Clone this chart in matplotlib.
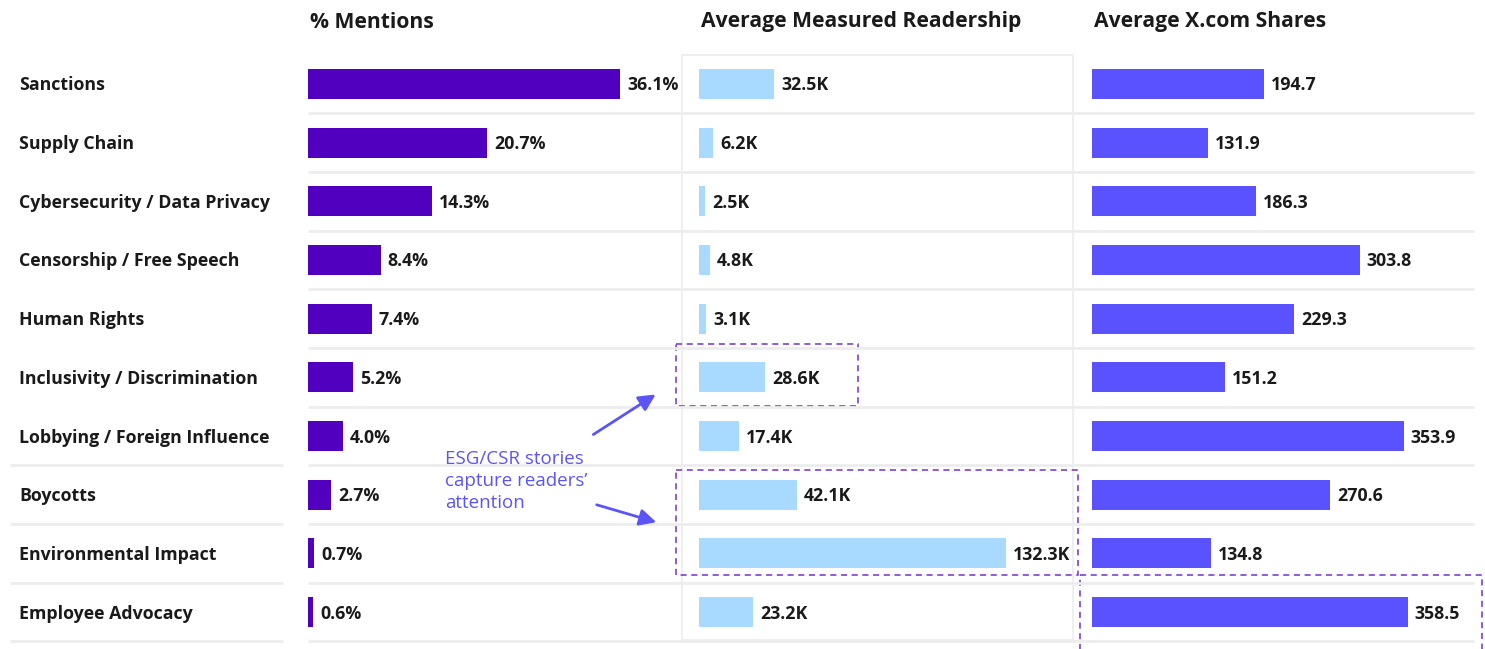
import matplotlib.pyplot as plt
from matplotlib.patches import Rectangle

topics = ["Sanctions", "Supply Chain", "Cybersecurity / Data Privacy",
          "Censorship / Free Speech", "Human Rights", "Inclusivity / Discrimination",
          "Lobbying / Foreign Influence", "Boycotts", "Environmental Impact",
          "Employee Advocacy"]
mentions = [36.1, 20.7, 14.3, 8.4, 7.4, 5.2, 4.0, 2.7, 0.7, 0.6]
readership = [32.5, 6.2, 2.5, 4.8, 3.1, 28.6, 17.4, 42.1, 132.3, 23.2]
shares = [194.7, 131.9, 186.3, 303.8, 229.3, 151.2, 353.9, 270.6, 134.8, 358.5]

headers = ["% Mentions", "Average Measured Readership", "Average X.com Shares"]
note = "ESG/CSR stories\ncapture readers\u2019\nattention"

W, H = 1485, 649
TEXT = "#1a1a1a"
GRID = "#ededed"
DASH = "#7330d2"
NOTE = "#5b55f7"

plt.rcParams['font.family'] = ['Open Sans', 'DejaVu Sans']

fig = plt.figure(figsize=(W / 100, H / 100), dpi=100)


def px_axes(x0, x1, y0, y1, z=1):
    ax = fig.add_axes([x0 / W, 1 - y1 / H, (x1 - x0) / W, (y1 - y0) / H], zorder=z)
    ax.set_axis_off()
    ax.patch.set_alpha(0)
    return ax


# overlay in pixel units for the frame, headers and callout
over = px_axes(0, W, 0, H, z=0)
over.set_xlim(0, W)
over.set_ylim(H, 0)

row_top, row_h = 54.7, 58.67
n = len(topics)
row_bot = row_top + n * row_h

# light box around the middle panel
over.add_patch(Rectangle((682, 55), 391, 585, fill=False, ec="#eeeeee", lw=1.3))

for i in range(n):
    y = row_top + (i + 1) * row_h
    if i >= 6:
        over.plot([10, 283], [y, y], color=GRID, lw=2, solid_capstyle="butt")
    over.plot([308, 1474], [y, y], color=GRID, lw=2, solid_capstyle="butt")

# topic labels
lab = px_axes(0, 300, row_top, row_bot)
lab.set_xlim(0, 300)
lab.set_ylim(n - 0.5, -0.5)
for i, t in enumerate(topics):
    lab.text(19, i + 0.11, t, ha="left", va="baseline", fontsize=12.8,
             fontweight="bold", color=TEXT)

panels = [
    (308, 681, 8.64, mentions, "#5200bf", "{:.1f}%"),
    (699, 1073, 2.32, readership, "#a8daff", "{:.1f}K"),
    (1092, 1474, 0.881, shares, "#5a52ff", "{:.1f}"),
]

for (x0, x1, scale, vals, col, fmt), head in zip(panels, headers):
    ax = px_axes(x0, x1, row_top, row_bot, z=2)
    ax.set_xlim(0, (x1 - x0) / scale)
    ax.set_ylim(n - 0.5, -0.5)
    ax.barh(range(n), vals, height=0.51, color=col, edgecolor="none")
    off = 7 / scale
    for i, v in enumerate(vals):
        ax.text(v + off, i + 0.11, fmt.format(v), ha="left", va="baseline",
                fontsize=12.8, fontweight="bold", color=TEXT, clip_on=False)
    over.text(x0 + 2, 22, head, ha="left", va="center", fontsize=15.2,
              fontweight="bold", color=TEXT)

# dashed highlight boxes
for (bx0, by0, bx1, by1) in [(676, 344, 858, 406), (676, 470, 1078, 575),
                             (1080, 575, 1482, 660)]:
    over.add_patch(Rectangle((bx0, by0), bx1 - bx0, by1 - by0, fill=False,
                             ec=DASH, lw=1.1, ls=(0, (4, 3)), clip_on=False))

over.text(445, 481, note, ha="left", va="center", fontsize=13.5, color=NOTE,
          linespacing=1.27)
arrow = dict(arrowstyle="-|>,head_length=1.0,head_width=0.5", color=NOTE, lw=2)
over.annotate("", xy=(658, 393), xytext=(591, 436), arrowprops=arrow)
over.annotate("", xy=(659, 523), xytext=(594, 504), arrowprops=arrow)

fig.savefig("out.png", dpi=100)
